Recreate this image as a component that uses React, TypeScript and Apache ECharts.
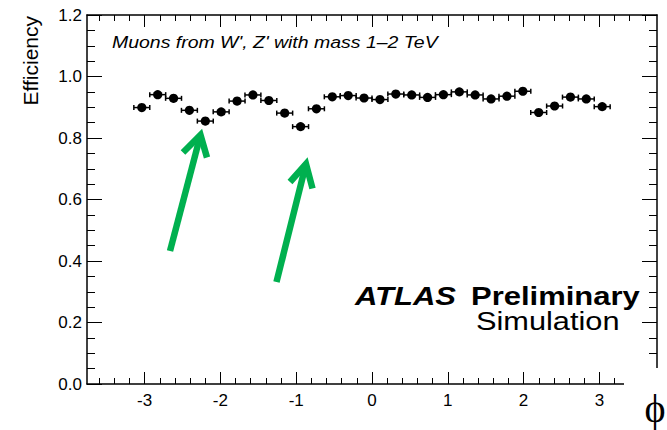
import React, { useEffect, useRef } from "react";
import * as echarts from "echarts";

// phi bin centres (30 bins over -pi..pi)
const phiCenters = [
  -3.037, -2.827, -2.618, -2.409, -2.199, -1.99, -1.78, -1.571, -1.361, -1.152,
  -0.942, -0.733, -0.524, -0.314, -0.105, 0.105, 0.314, 0.524, 0.733, 0.942,
  1.152, 1.361, 1.571, 1.78, 1.99, 2.199, 2.409, 2.618, 2.827, 3.037,
];
const efficiency = [
  0.899, 0.941, 0.929, 0.89, 0.855, 0.885, 0.92, 0.94, 0.922, 0.881,
  0.837, 0.895, 0.934, 0.938, 0.93, 0.925, 0.943, 0.94, 0.932, 0.941,
  0.95, 0.94, 0.927, 0.936, 0.952, 0.883, 0.904, 0.933, 0.927, 0.902,
];
const binHalfWidth = 0.105;

const xMajorTicks = [-3, -2, -1, 0, 1, 2, 3];
const xMinorTicks = [
  -3.6, -3.4, -3.2, -2.8, -2.6, -2.4, -2.2, -1.8, -1.6, -1.4, -1.2, -0.8, -0.6,
  -0.4, -0.2, 0.2, 0.4, 0.6, 0.8, 1.2, 1.4, 1.6, 1.8, 2.2, 2.4, 2.6, 2.8, 3.2,
  3.4, 3.6,
];
const xRange = [-3.76, 3.76];
const yRange = [0, 1.2];
const yStep = 0.2;

const titleText = "Muons from W', Z' with mass 1\u20132 TeV";
const yTitle = "Efficiency";
const xTitle = "\u03d5";

const FONT = "'Liberation Sans', Arial, Helvetica, sans-serif";
const GREEN = "#00b04f";

export default function App() {
  const ref = useRef<HTMLDivElement>(null);

  useEffect(() => {
    if (!ref.current) return;
    const chart = echarts.init(ref.current, undefined, { renderer: "svg" });

    const lineStyle = { color: "#000", width: 1 };
    const frameLine = { show: true, onZero: false, lineStyle: { color: "#000", width: 1.5 } };

    const xMajor = (position: string, labels: boolean) => ({
      type: "value",
      position,
      min: xRange[0],
      max: xRange[1],
      axisLine: frameLine,
      splitLine: { show: false },
      axisTick: { show: true, inside: true, length: 12, customValues: xMajorTicks, lineStyle },
      axisLabel: labels
        ? {
            show: true,
            customValues: xMajorTicks,
            fontFamily: FONT,
            fontSize: 17,
            color: "#000",
            margin: 8,
            formatter: (v: number) => String(v),
          }
        : { show: false },
    });
    const xMinor = (position: string) => ({
      type: "value",
      position,
      min: xRange[0],
      max: xRange[1],
      axisLine: { show: false, onZero: false },
      splitLine: { show: false },
      axisTick: { show: true, inside: true, length: 6, customValues: xMinorTicks, lineStyle },
      axisLabel: { show: false },
    });
    const yAx = (position: string, labels: boolean) => ({
      type: "value",
      position,
      min: yRange[0],
      max: yRange[1],
      interval: yStep,
      axisLine: frameLine,
      splitLine: { show: false },
      axisTick: { show: true, inside: true, length: 15, lineStyle },
      minorTick: { show: true, splitNumber: 4, length: 8, lineStyle },
      axisLabel: labels
        ? {
            show: true,
            fontFamily: FONT,
            fontSize: 17,
            color: "#000",
            margin: 5,
            formatter: (v: number) => v.toFixed(1),
          }
        : { show: false },
    });

    const arrow = (tail: number[], tip: number[], b1: number[], b2: number[]) => [
      {
        type: "line",
        shape: { x1: tail[0], y1: tail[1], x2: tip[0], y2: tip[1] },
        style: { stroke: GREEN, lineWidth: 6.5, lineCap: "butt" },
        z: 50,
      },
      {
        type: "polyline",
        shape: { points: [b1, tip, b2] },
        style: { stroke: GREEN, lineWidth: 6.5, lineJoin: "miter", fill: null },
        z: 50,
      },
    ];

    chart.setOption({
      animation: false,
      backgroundColor: "#fff",
      grid: { left: 87, right: 10, top: 15, bottom: 46, containLabel: false },
      xAxis: [xMajor("bottom", true), xMinor("bottom"), xMajor("top", false), xMinor("top")],
      yAxis: [yAx("left", true), yAx("right", false)],
      series: [
        {
          type: "custom",
          xAxisIndex: 0,
          yAxisIndex: 0,
          data: phiCenters.map((p, i) => [p, efficiency[i]]),
          renderItem: (params: any, api: any) => {
            const x = api.value(0);
            const y = api.value(1);
            const c = api.coord([x, y]);
            const l = api.coord([x - binHalfWidth, y]);
            const r = api.coord([x + binHalfWidth, y]);
            const cap = 2.5;
            const st = { stroke: "#000", lineWidth: 1.5 };
            return {
              type: "group",
              children: [
                { type: "line", shape: { x1: l[0], y1: c[1], x2: r[0], y2: c[1] }, style: st },
                { type: "line", shape: { x1: l[0], y1: c[1] - cap, x2: l[0], y2: c[1] + cap }, style: st },
                { type: "line", shape: { x1: r[0], y1: c[1] - cap, x2: r[0], y2: c[1] + cap }, style: st },
                { type: "circle", shape: { cx: c[0], cy: c[1], r: 4.6 }, style: { fill: "#000" } },
              ],
            };
          },
        },
      ],
      graphic: [
        {
          type: "text",
          x: 112,
          y: 43,
          scaleX: 1.18,
          style: {
            text: titleText,
            font: `italic 16.5px ${FONT}`,
            fill: "#000",
            verticalAlign: "middle",
          },
          z: 60,
        },
        {
          type: "text",
          x: 30,
          y: 16,
          rotation: Math.PI / 2,
          style: {
            text: yTitle,
            font: `21px ${FONT}`,
            fill: "#000",
            align: "right",
            verticalAlign: "middle",
          },
          z: 60,
        },
        {
          type: "text",
          x: 355,
          y: 297,
          scaleX: 1.24,
          style: { text: "ATLAS", font: `italic bold 25px ${FONT}`, fill: "#000", verticalAlign: "middle" },
          z: 60,
        },
        {
          type: "text",
          x: 471,
          y: 297,
          scaleX: 1.24,
          style: { text: "Preliminary", font: `bold 25px ${FONT}`, fill: "#000", verticalAlign: "middle" },
          z: 60,
        },
        {
          type: "text",
          x: 476,
          y: 322,
          scaleX: 1.23,
          style: { text: "Simulation", font: `25px ${FONT}`, fill: "#000", verticalAlign: "middle" },
          z: 60,
        },
        {
          type: "rect",
          shape: { x: 624, y: 368, width: 60, height: 80 },
          style: { fill: "#fff" },
          z: 100,
        },
        {
          type: "text",
          x: 655,
          y: 408,
          style: {
            text: xTitle,
            font: `40px 'Liberation Serif', 'Times New Roman', serif`,
            fill: "#000",
            align: "center",
            verticalAlign: "middle",
          },
          z: 101,
        },
        ...arrow([170, 251], [200.5, 135], [183, 152.5], [207, 157.5]),
        ...arrow([276.5, 282], [306, 164], [290, 182], [312.5, 188.5]),
      ],
    });

    return () => chart.dispose();
  }, []);

  return (
    <div
      ref={ref}
      style={{ position: "fixed", left: 0, top: 0, width: 667, height: 430 }}
    />
  );
}
